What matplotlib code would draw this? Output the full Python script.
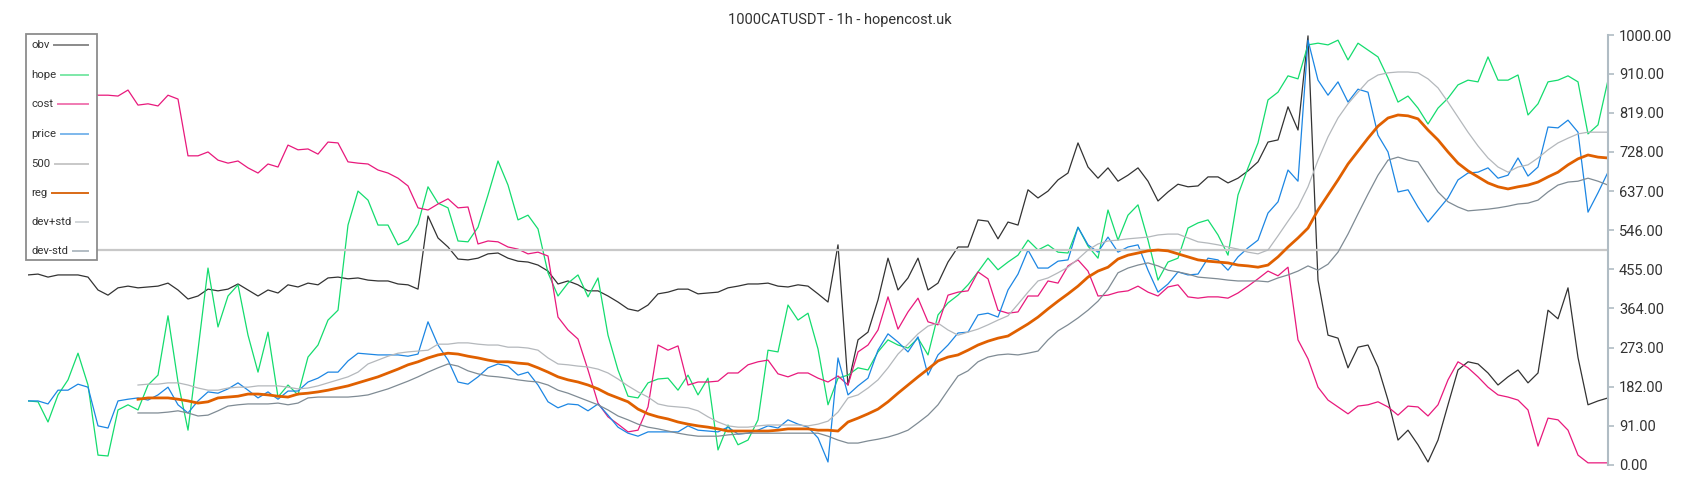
import numpy as np
import matplotlib
matplotlib.use("Agg")
import matplotlib.pyplot as plt
from matplotlib.lines import Line2D
from matplotlib.patches import Rectangle
from matplotlib.ticker import FormatStrFormatter

plt.rcParams['font.family'] = ['Roboto', 'DejaVu Sans']

title = "1000CATUSDT - 1h - hopencost.uk"

# values, one per ~10px step (159 steps)
obv = [442, 444, 437, 442, 442, 442, 437, 407, 395, 412, 416, 412, 414, 416, 423, 407, 386, 393, 409, 405,
       409, 421, 407, 393, 407, 400, 419, 414, 423, 419, 435, 437, 433, 435, 430, 428, 428, 421, 419, 409,
       579, 528, 507, 479, 477, 481, 491, 493, 481, 474, 472, 465, 451, 421, 428, 419, 405, 405, 393, 379,
       363, 358, 372, 398, 402, 409, 409, 398, 400, 402, 412, 416, 421, 421, 423, 416, 414, 419, 416, 398,
       379, 512, 186, 291, 309, 384, 481, 407, 435, 481, 407, 423, 472, 507, 507, 570, 567, 526, 565, 558,
       640, 621, 637, 663, 679, 749, 693, 667, 691, 660, 674, 691, 660, 614, 635, 653, 647, 649, 670, 670,
       656, 667, 684, 705, 751, 756, 833, 779, 998, 430, 302, 295, 226, 274, 279, 228, 151, 58, 81, 47,
       7, 58, 140, 221, 240, 235, 214, 186, 205, 221, 191, 214, 360, 340, 412, 250, 140, 149, 156]

hope = [149, 147, 100, 163, 198, 260, 186, 23, 21, 128, 140, 128, 186, 209, 347, 193, 81, 267, 458, 321,
        393, 419, 302, 216, 309, 158, 186, 163, 251, 279, 337, 360, 558, 637, 616, 558, 558, 512, 523, 560,
        647, 609, 598, 521, 519, 553, 628, 707, 651, 570, 581, 549, 447, 393, 423, 442, 391, 435, 302, 221,
        160, 156, 191, 200, 202, 174, 209, 163, 202, 35, 93, 47, 58, 105, 267, 263, 372, 337, 353, 270,
        140, 202, 209, 226, 221, 263, 291, 279, 272, 295, 256, 349, 377, 395, 419, 449, 481, 454, 472, 488,
        523, 500, 512, 495, 493, 553, 509, 481, 593, 523, 581, 605, 523, 430, 472, 481, 551, 563, 570, 535,
        488, 628, 691, 749, 849, 867, 905, 898, 977, 981, 977, 988, 942, 981, 965, 949, 900, 844, 858, 830,
        793, 830, 853, 884, 895, 891, 949, 895, 895, 907, 814, 840, 891, 895, 905, 891, 770, 791, 895]

cost = [958, 947, 937, 919, 907, 891, 872, 860, 860, 858, 872, 837, 840, 835, 860, 851, 719, 719, 728, 709,
        702, 707, 691, 679, 700, 693, 744, 733, 735, 723, 751, 749, 705, 702, 700, 686, 679, 667, 649, 598,
        593, 607, 619, 598, 600, 514, 521, 519, 507, 502, 491, 495, 486, 344, 314, 293, 221, 144, 112, 95,
        77, 81, 135, 279, 267, 277, 186, 193, 193, 195, 214, 214, 233, 240, 244, 212, 205, 214, 214, 202,
        193, 207, 186, 263, 279, 314, 391, 316, 356, 388, 333, 326, 395, 402, 405, 449, 433, 360, 353, 356,
        393, 393, 428, 423, 463, 477, 451, 393, 395, 402, 405, 416, 402, 393, 414, 419, 391, 388, 391, 391,
        388, 400, 416, 433, 451, 440, 460, 291, 247, 181, 151, 135, 119, 137, 140, 147, 135, 116, 137, 135,
        114, 140, 198, 240, 226, 205, 181, 163, 158, 151, 128, 44, 109, 105, 81, 23, 5, 5, 5]

price = [149, 149, 142, 174, 174, 188, 181, 91, 86, 149, 153, 156, 151, 163, 181, 140, 121, 149, 170, 167,
         177, 191, 174, 156, 170, 153, 172, 172, 193, 202, 216, 216, 242, 260, 258, 256, 256, 256, 253, 258,
         333, 279, 244, 193, 188, 205, 226, 235, 230, 209, 216, 186, 147, 133, 142, 140, 126, 142, 116, 88,
         74, 67, 77, 77, 77, 77, 91, 81, 79, 77, 88, 72, 74, 81, 91, 86, 105, 95, 88, 63,
         7, 249, 163, 184, 202, 267, 305, 286, 263, 298, 209, 256, 279, 307, 309, 349, 353, 344, 407, 444,
         500, 458, 458, 474, 477, 553, 512, 495, 530, 495, 507, 512, 453, 402, 421, 449, 442, 444, 481, 477,
         453, 484, 505, 523, 586, 612, 686, 660, 988, 895, 860, 891, 844, 874, 867, 767, 728, 635, 640, 600,
         565, 593, 621, 663, 679, 681, 691, 667, 674, 714, 672, 693, 786, 784, 802, 774, 588, 633, 681]

nan = np.nan
reg = [nan] * 11 + [
    153, 156, 156, 156, 153, 149, 144, 147, 156, 158, 160, 165, 165, 163, 160, 158, 165, 167, 170,
    174, 179, 184, 191, 198, 205, 214, 223, 233, 240, 249, 256, 260, 258, 253, 249, 244, 240, 240, 237,
    235, 226, 216, 205, 198, 193, 186, 177, 165, 156, 147, 130, 119, 112, 107, 100, 95, 91, 88, 84,
    79, 79, 79, 79, 79, 81, 84, 84, 84, 81, 81, 79, 100, 109, 119, 130, 147, 167, 186, 205,
    223, 242, 251, 256, 267, 279, 288, 295, 300, 314, 328, 344, 363, 381, 398, 416, 437, 451, 460, 479,
    488, 493, 498, 500, 498, 491, 484, 477, 474, 472, 470, 465, 463, 460, 465, 484, 507, 528, 551, 593,
    628, 663, 700, 730, 760, 788, 807, 814, 812, 805, 779, 756, 728, 702, 684, 670, 656, 647, 642, 647,
    651, 658, 670, 681, 698, 712, 721, 716, 714]

dev_up = [nan] * 11 + [
    186, 188, 188, 191, 191, 186, 179, 174, 174, 179, 181, 181, 184, 184, 184, 181, 177, 179, 184,
    191, 198, 205, 216, 235, 244, 253, 260, 263, 265, 267, 281, 281, 284, 284, 281, 279, 279, 274, 274,
    272, 267, 249, 235, 233, 230, 228, 223, 214, 200, 184, 170, 158, 142, 137, 135, 133, 126, 112, 100,
    91, 88, 88, 91, 93, 93, 93, 93, 91, 95, 102, 123, 156, 163, 179, 198, 226, 258, 281, 305,
    323, 330, 314, 302, 309, 316, 326, 337, 347, 374, 402, 428, 435, 447, 460, 479, 500, 514, 521, 523,
    526, 528, 530, 535, 537, 537, 528, 519, 516, 512, 507, 502, 495, 491, 500, 533, 567, 600, 647, 709,
    763, 807, 840, 867, 893, 907, 912, 914, 914, 912, 898, 877, 844, 809, 774, 742, 714, 693, 681, 693,
    698, 714, 733, 749, 760, 770, 774, 774, 774]

dev_dn = [nan] * 11 + [
    121, 121, 121, 123, 126, 121, 114, 116, 126, 137, 140, 142, 142, 142, 144, 140, 144, 156, 158,
    158, 158, 158, 160, 163, 170, 177, 186, 195, 205, 216, 226, 235, 230, 219, 212, 207, 205, 202, 198,
    195, 193, 186, 174, 167, 158, 149, 140, 128, 114, 105, 95, 88, 84, 79, 74, 70, 67, 67, 67,
    70, 72, 74, 74, 74, 74, 74, 74, 74, 74, 67, 58, 51, 51, 56, 60, 65, 72, 81, 98,
    116, 140, 174, 207, 219, 240, 251, 256, 258, 256, 260, 265, 291, 312, 326, 342, 360, 381, 409, 447,
    458, 465, 470, 463, 453, 449, 444, 437, 435, 433, 430, 428, 428, 428, 426, 435, 442, 451, 463, 453,
    467, 495, 537, 584, 630, 674, 709, 716, 709, 705, 670, 635, 612, 600, 591, 593, 595, 598, 602, 607,
    609, 616, 635, 651, 658, 660, 667, 660, 651]

level = 500
y_ticks = [0, 91, 182, 273, 364, 455, 546, 637, 728, 819, 910, 1000]

series = [
    ("obv", obv, '#333333', 0.9, '#8a8a8a'),
    ("hope", hope, '#14dc6e', 0.9, '#7de8a8'),
    ("cost", cost, '#e8197c', 0.9, '#f07ab2'),
    ("price", price, '#1c86e3', 0.9, '#7db8ec'),
    ("reg", reg, '#e06000', 2.0, '#d96a16'),
    ("dev+std", dev_up, '#b4b8bc', 0.9, '#d2d6d9'),
    ("dev-std", dev_dn, '#7f8b94', 0.9, '#b2bcc3'),
]

W, H = 1700, 500
fig = plt.figure(figsize=(17, 5), dpi=100)
ax = fig.add_axes([28 / W, 35 / H, 1580 / W, 430 / H])
x = np.arange(len(obv))

for name, vals, col, lw, _ in series[:4]:
    ax.plot(x, vals, color=col, lw=lw)
ax.axhline(level, color='#c8c8c8', lw=1.6)
for name, vals, col, lw, _ in series[4:]:
    ax.plot(x, vals, color=col, lw=lw)

ax.set_xlim(0, len(obv) - 1)
ax.set_ylim(0, 1000)
ax.yaxis.tick_right()
ax.set_yticks(y_ticks)
ax.yaxis.set_major_formatter(FormatStrFormatter('%.2f'))
ax.tick_params(axis='y', colors='#b0bcc4', labelcolor='#333333', labelsize=10.5, length=4, width=1.2, pad=4)
ax.set_xticks([])
for s in ['left', 'top', 'bottom']:
    ax.spines[s].set_visible(False)
ax.spines['right'].set_color('#b0bcc4')
ax.spines['right'].set_linewidth(1.5)

fig.text(840 / W, 1 - 20 / H, title, ha='center', va='center', fontsize=10.5, color='#333333')

# hand-drawn legend: label on the left, line on the right
box = Rectangle((26 / W, 1 - 260 / H), 71 / W, 226 / H, transform=fig.transFigure,
                facecolor='white', edgecolor='#8c8c8c', lw=1.3, zorder=5)
fig.add_artist(box)
leg_items = [(s[0], s[4]) for s in series[:4]] + [("500", '#c8c8c8')] + [(s[0], s[4]) for s in series[4:]]
leg_y = [45, 75, 104, 134, 164, 193, 222, 251]
renderer = fig.canvas.get_renderer()
for (name, col), yy in zip(leg_items, leg_y):
    t = fig.text(31 / W, 1 - yy / H, name, ha='left', va='center', fontsize=8.2, color='#333333', zorder=6)
    bb = t.get_window_extent(renderer)
    x0 = (bb.x1 + 5) / W
    fig.add_artist(Line2D([x0, 88 / W], [1 - yy / H, 1 - yy / H], transform=fig.transFigure,
                          color=col, lw=1.4, zorder=6))

fig.savefig("out.png", dpi=100)
